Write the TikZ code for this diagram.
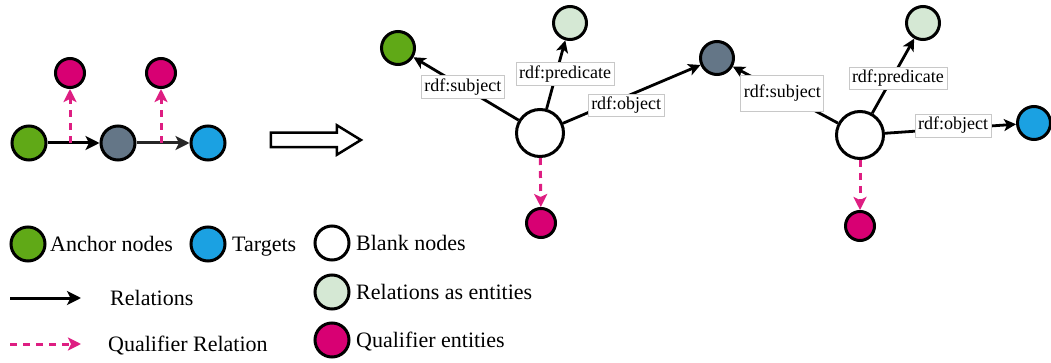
\documentclass[tikz,border=0pt]{standalone}
\usepackage{fontspec}
\setmainfont{Liberation Serif}
\usetikzlibrary{arrows.meta,shapes.arrows}
\definecolor{cgreen}{HTML}{60A917}
\definecolor{cgray}{HTML}{647687}
\definecolor{cblue}{HTML}{1BA1E2}
\definecolor{clight}{HTML}{D5E8D4}
\definecolor{cmag}{HTML}{D80073}
\definecolor{cdash}{RGB}{222,30,130}
\definecolor{cbox}{RGB}{200,200,200}
\tikzset{
  ent/.style={circle,draw=black,line width=3pt,minimum size=#1,inner sep=0pt},
  rel/.style={line width=3pt,-{Stealth[length=14pt,width=14pt,inset=3.5pt]}},
  relsm/.style={line width=2.8pt,-{Stealth[length=12pt,width=12pt,inset=3pt]}},
  qual/.style={line width=3pt,draw=cdash,dash pattern=on 7pt off 6pt,-{Stealth[length=13pt,width=13pt,inset=3pt,fill=cdash,sep=0pt]}},
  lbl/.style={draw=cbox,line width=0.6pt,fill=white,inner xsep=3pt,inner ysep=3pt,font=\fontsize{18}{20}\selectfont},
  legtxt/.style={anchor=base west,inner sep=0pt,font=\fontsize{22}{26}\selectfont}
}
\begin{document}
\begin{tikzpicture}[x=1pt,y=-1pt]
\useasboundingbox (0,0) rectangle (1051,363);
% left original graph
\node[ent=34pt,fill=cgreen] (a) at (29,143) {};
\node[ent=34pt,fill=cgray] (m) at (118,143) {};
\node[ent=34pt,fill=cblue] (t) at (208,143) {};
\node[ent=29pt,fill=cmag] (qa) at (70,73) {};
\node[ent=29pt,fill=cmag] (qb) at (161,73) {};
\coordinate (ca) at (70,143);
\coordinate (cb) at (161,143);
\draw[rel] (a) -- (m);
\draw[rel,draw=black!85] (m) -- (t);
\draw[qual] (ca) -- (qa);
\draw[qual] (cb) -- (qb);
% hollow arrow
\node[single arrow,draw=black,line width=2.5pt,fill=white,minimum height=90pt,minimum width=27pt,inner sep=6pt,single arrow head extend=7.5pt,single arrow tip angle=63] (big) at (310,140) {};
% first reified statement
\node[ent=33pt,fill=cgreen] (g1) at (398,48) {};
\node[ent=33pt,fill=clight] (p1) at (570,23) {};
\node[ent=33pt,fill=cgray] (o1) at (717,58) {};
\node[ent=47pt,fill=white] (b1) at (540,133) {};
\node[ent=29pt,fill=cmag] (q1) at (541,223) {};
\draw[relsm] (b1) -- node[lbl,pos=0.53] {rdf:subject} (g1);
\draw[relsm] (b1) -- node[lbl,pos=0.51,xshift=9pt] {rdf:predicate} (p1);
\draw[relsm] (b1) -- node[lbl,pos=0.46,yshift=-9pt] {rdf:object} (o1);
\draw[qual] (b1) -- (q1);
% second reified statement
\node[ent=33pt,fill=clight] (p2) at (923,23) {};
\node[ent=33pt,fill=cblue] (t2) at (1034,123) {};
\node[ent=47pt,fill=white] (b2) at (860,135) {};
\node[ent=29pt,fill=cmag] (q2) at (860,226) {};
\draw[relsm] (b2) -- node[lbl,pos=0.53,minimum height=36pt] {rdf:subject} (o1);
\draw[relsm] (b2) -- node[lbl,pos=0.47,xshift=6pt] {rdf:predicate} (p2);
\draw[relsm] (b2) -- node[lbl,pos=0.52,yshift=3pt] {rdf:object} (t2);
\draw[qual] (b2) -- (q2);
% legend
\node[ent=34pt,fill=cgreen] (la) at (28,244) {};
\node[legtxt] (lat) at (50,251.5) {Anchor nodes};
\node[ent=34pt,fill=cblue] (lt) at (208,244) {};
\node[legtxt] (ltt) at (232,251.5) {Targets};
\node[ent=34pt,fill=white] (lb) at (332,243) {};
\node[legtxt] (lbt) at (356,250.5) {Blank nodes};
\node[ent=34pt,fill=clight] (lr) at (332,292) {};
\node[legtxt] (lrt) at (356,299.5) {Relations as entities};
\node[ent=34pt,fill=cmag] (lq) at (332,340) {};
\node[legtxt] (lqt) at (356,347.5) {Qualifier entities};
\coordinate (r1) at (10,298);
\coordinate (r2) at (81,298);
\draw[rel] (r1) -- (r2);
\node[legtxt] (rt) at (110,305.5) {Relations};
\coordinate (d1) at (10,344);
\coordinate (d2) at (81,344);
\draw[qual] (d1) -- (d2);
\node[legtxt] (dt) at (108,351.5) {Qualifier Relation};
\end{tikzpicture}
\end{document}
